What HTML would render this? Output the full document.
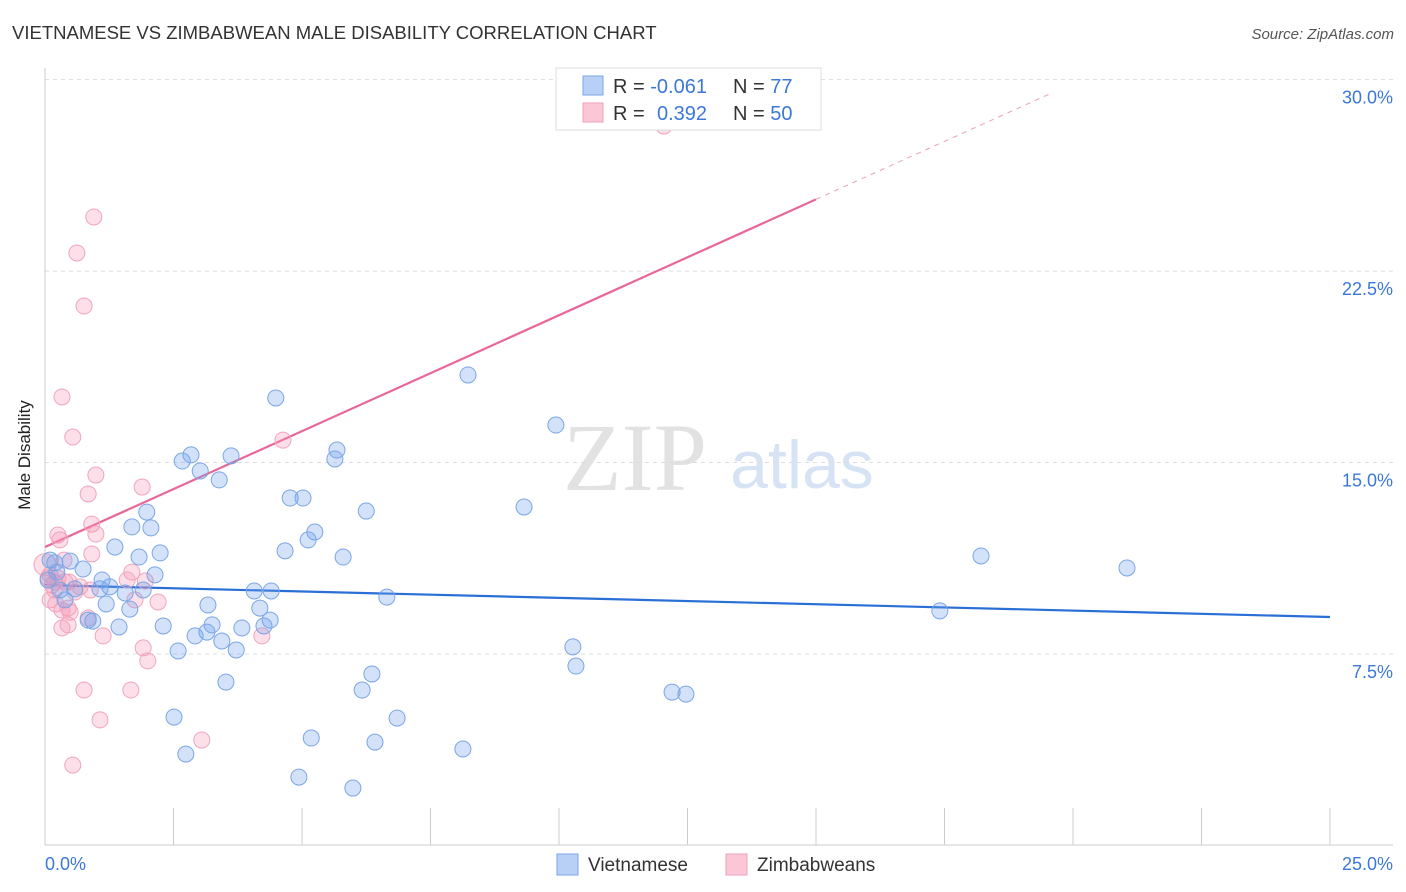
<!DOCTYPE html>
<html><head><meta charset="utf-8"><style>
body{margin:0;background:#fff;font-family:"Liberation Sans",sans-serif;}
svg{display:block}
</style></head><body>
<svg id="chart" width="1406" height="892">
<text x="12" y="39" font-size="18.5" fill="#333">VIETNAMESE VS ZIMBABWEAN MALE DISABILITY CORRELATION CHART</text>
<text x="1394" y="39" font-size="15" fill="#555" font-style="italic" text-anchor="end">Source: ZipAtlas.com</text>
<text x="30" y="455" font-size="17" fill="#222" transform="rotate(-90 30 455)" text-anchor="middle">Male Disability</text>
<g><text x="635" y="490" font-size="96" fill="#e2e2e2" font-family="Liberation Serif,serif" text-anchor="middle">ZIP</text><text x="802" y="488" font-size="68" fill="#d6e3f5" text-anchor="middle">atlas</text></g>
<g id="grid"></g><g id="axes"></g><g id="lines"></g><g id="pts"></g>
<g>
<rect x="556" y="68" width="265" height="62" fill="#fff" stroke="#ddd"/>
<rect x="583" y="76" width="20" height="19" fill="#b8d0f5" stroke="#7aa6e6"/>
<rect x="583" y="103" width="20" height="19" fill="#fbc7d6" stroke="#f0a0b8"/>
<text x="613" y="93" font-size="20" fill="#333">R = <tspan fill="#3b78d8">-0.061</tspan><tspan x="733">N = </tspan><tspan fill="#3b78d8">77</tspan></text>
<text x="613" y="120" font-size="20" fill="#333">R = <tspan fill="#3b78d8" x="657">0.392</tspan><tspan x="733">N = </tspan><tspan fill="#3b78d8">50</tspan></text>
</g>
<g>
<rect x="557" y="854" width="21" height="21" fill="#b8d0f5" stroke="#7aa6e6"/>
<text x="588" y="871" font-size="19" fill="#333">Vietnamese</text>
<rect x="726" y="854" width="21" height="21" fill="#fbc7d6" stroke="#f0a0b8"/>
<text x="757" y="871" font-size="19" fill="#333">Zimbabweans</text>
</g>
</svg>
<script>
const yTicks=[7.5,15.0,22.5,30.0];
const xTickLabels=["0.0%","25.0%"];
const blueX=[8.23,9.94,4.49,5.68,5.64,2.84,2.67,3.62,3.02,3.39,4.77,5.02,6.25,9.32,1.98,1.69,2.06,5.25,5.12,4.67,5.80,2.24,1.83,1.36,0.49,0.19,18.21,21.05,2.14,0.74,1.11,1.26,1.56,1.91,4.07,4.40,6.65,1.07,0.58,3.17,4.18,1.65,1.19,0.39,17.41,0.93,1.44,2.30,3.25,4.38,3.83,4.26,3.15,2.92,3.44,3.72,2.59,10.27,10.33,6.36,3.52,6.17,12.20,12.47,2.51,6.85,5.18,6.42,8.13,2.74,4.94,5.99,0.10,0.06,0.29,0.23,0.84];
const blueY=[18.43,16.47,17.53,15.49,15.14,15.30,15.06,15.26,14.67,14.32,13.61,13.61,13.10,13.26,13.06,12.48,12.44,12.28,11.97,11.54,11.30,11.46,11.30,11.69,11.14,11.07,11.34,10.87,10.60,10.83,10.40,10.13,9.89,10.01,9.97,9.97,9.73,10.05,10.05,9.42,9.30,9.26,9.46,9.62,9.19,8.79,8.56,8.60,8.64,8.83,8.52,8.60,8.36,8.21,8.01,7.66,7.62,7.78,7.03,6.72,6.40,6.09,6.01,5.93,5.03,4.99,4.21,4.05,3.78,3.58,2.68,2.25,11.18,10.40,10.01,10.71,8.83];
const pinkX=[12.04,0.95,0.62,0.76,0.33,0.54,4.63,0.99,0.84,1.89,0.91,0.99,0.25,0.29,0.91,1.69,0.10,0.19,0.39,0.68,1.95,1.60,0.58,1.75,2.20,0.45,0.33,0.49,0.84,0.45,0.33,1.13,1.91,2.00,4.22,0.76,1.67,1.07,3.05,0.54,0.06,0.14,0.25,0.19,0.0,0.37,0.10,0.21,0.47,0.88];
const pinkY=[28.18,24.62,23.21,21.13,17.57,16.00,15.88,14.51,13.77,14.04,12.59,12.20,12.16,11.97,11.42,10.71,10.60,10.32,10.32,10.13,10.36,10.40,9.93,9.62,9.54,9.30,9.22,9.14,8.91,8.64,8.52,8.21,7.74,7.23,8.21,6.09,6.09,4.92,4.13,3.15,10.48,10.20,10.48,10.01,11.0,11.18,9.62,9.46,10.32,10.01];
const blueTrend=[10.2,8.95];
const pinkTrend=[11.69,0.908];
const X0=45,X1=1330,Y0=845.5,YS=25.53;
const sx=v=>X0+v*(X1-X0)/25, sy=v=>Y0-v*YS;
const NS="http://www.w3.org/2000/svg";
function mk(p,t,a){const e=document.createElementNS(NS,t);for(const k in a)e.setAttribute(k,a[k]);p.appendChild(e);return e;}
const grid=document.getElementById('grid'),axes=document.getElementById('axes');
yTicks.forEach(t=>{
 const l=mk(grid,'line',{x1:45,x2:1393,y1:sy(t),y2:sy(t),stroke:'#ddd','stroke-dasharray':'4 4'});
 
 
 const tx=mk(grid,'text',{x:1393,y:sy(t)+24,'font-size':18,fill:'#3b78d8','text-anchor':'end'});
 tx.textContent=t.toFixed(1)+'%';
 
 
});
const ax=mk(axes,'line',{x1:45,x2:45,y1:68,y2:845,stroke:'#ccc'});


const bx=mk(axes,'line',{x1:45,x2:1393,y1:845,y2:845,stroke:'#ccc'});


for(let i=0;i<=10;i++){const v=i*2.5;
 const t=mk(axes,'line',{x1:sx(v),x2:sx(v),y1:808,y2:845,stroke:'#ccc'});
 
 
}
const xl0=mk(axes,'text',{x:45,y:870,'font-size':18,fill:'#3b78d8'});xl0.textContent=xTickLabels[0];


const xl1=mk(axes,'text',{x:1393,y:870,'font-size':18,fill:'#3b78d8','text-anchor':'end'});xl1.textContent=xTickLabels[1];


const pts=document.getElementById('pts');
pinkX.forEach((x,i)=>{const c=mk(pts,'circle',{cx:sx(x),cy:sy(pinkY[i]),r:(x===0?11:8),fill:'rgba(245,150,180,0.3)',stroke:'#f2a5bd','stroke-width':1});
 
 });
blueX.forEach((x,i)=>{const c=mk(pts,'circle',{cx:sx(x),cy:sy(blueY[i]),r:8,fill:'rgba(110,160,235,0.3)',stroke:'#7aa6e6','stroke-width':1});
 
 });
const lines=document.getElementById('lines');
const bl=mk(lines,'line',{x1:sx(0),y1:sy(blueTrend[0]),x2:sx(25),y2:sy(blueTrend[1]),stroke:'#2a6fd6','stroke-width':2.2});


const pf=v=>pinkTrend[0]+pinkTrend[1]*v;
const pl=mk(lines,'line',{x1:sx(0),y1:sy(pf(0)),x2:sx(15),y2:sy(pf(15)),stroke:'#e8679a','stroke-width':2.2});


const pd=mk(lines,'line',{x1:sx(15),y1:sy(pf(15)),x2:sx(19.6),y2:sy(pf(19.6)),stroke:'#eaa0bb','stroke-width':1,'stroke-dasharray':'5 5'});


</script>
</body></html>
